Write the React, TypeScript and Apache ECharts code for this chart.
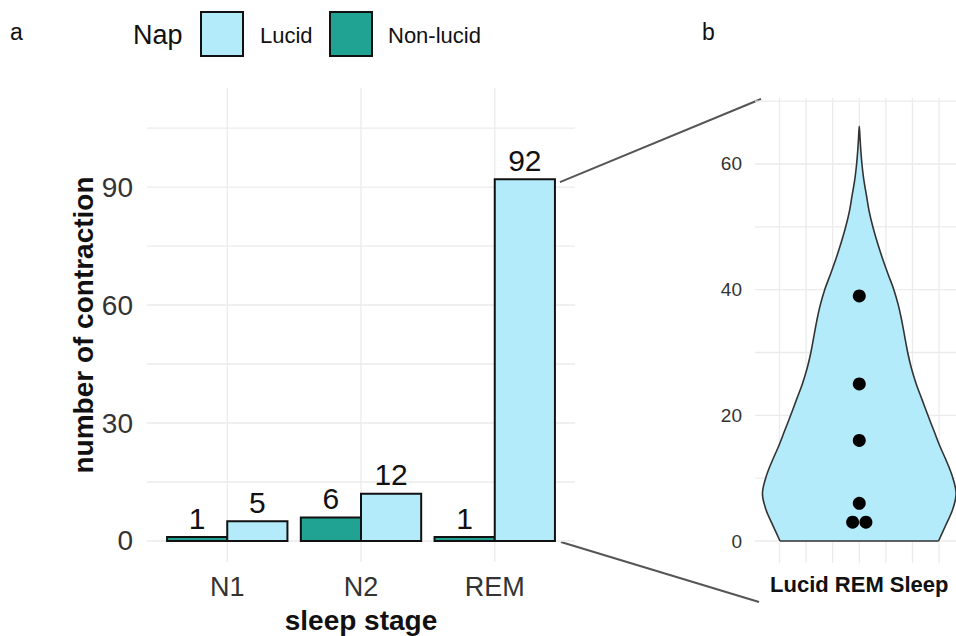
import React, { useEffect, useRef } from "react";
import * as echarts from "echarts";

// ---- data ----
const stages = ["N1", "N2", "REM"];
const lucidCounts = [5, 12, 92];
const nonLucidCounts = [1, 6, 1];
const yTicksA = [0, 30, 60, 90];
const yGridA = [0, 15, 30, 45, 60, 75, 90, 105];
const xGridA = [1, 2, 3];

const violinY = [66, 64, 62, 60, 57.5, 55, 52.5, 50, 47.5, 45, 42.5, 40, 37.5, 35, 32.5, 30, 27.5, 25, 22.5, 20, 17.5, 15, 12.5, 10, 7.5, 5, 2.5, 0];
const violinHalfWidth = [0, 0.03, 0.06, 0.1, 0.17, 0.27, 0.37, 0.51, 0.68, 0.87, 1.08, 1.3, 1.47, 1.6, 1.71, 1.82, 1.96, 2.14, 2.36, 2.58, 2.81, 3.04, 3.3, 3.52, 3.64, 3.51, 3.25, 2.98];
const dotX = [0, 0, 0, 0, -0.25, 0.25];
const dotY = [39, 25, 16, 6, 3, 3];
const yTicksB = [0, 20, 40, 60];
const yGridB = [0, 10, 20, 30, 40, 50, 60, 70];
const xGridB = [-3, -2, -1, 0, 1, 2, 3];
const violinLabel = ["Lucid REM Sleep"];

const LUCID = "#B3EBFA";
const NONLUCID = "#21A394";
const GRID = "#EBEBEB";
const FONT = '"Liberation Sans", Arial, sans-serif';

export default function App() {
  const ref = useRef<HTMLDivElement>(null);
  useEffect(() => {
    if (!ref.current) return;
    const chart = echarts.init(ref.current, null, { renderer: "svg" });

    const hLine = (xMin: number, xMax: number) => (params: any, api: any) => {
      const v = api.value(1);
      const a = api.coord([xMin, v]);
      const b = api.coord([xMax, v]);
      return { type: "line", silent: true, shape: { x1: a[0], y1: a[1], x2: b[0], y2: b[1] }, style: { stroke: GRID, lineWidth: 1.3 } };
    };
    const vLine = (yMin: number, yMax: number) => (params: any, api: any) => {
      const v = api.value(0);
      const a = api.coord([v, yMin]);
      const b = api.coord([v, yMax]);
      return { type: "line", silent: true, shape: { x1: a[0], y1: a[1], x2: b[0], y2: b[1] }, style: { stroke: GRID, lineWidth: 1.3 } };
    };

    const barRender = (offset: number, color: string) => (params: any, api: any) => {
      const x = api.value(0);
      const v = api.value(1);
      const p0 = api.coord([x + offset, 0]);
      const p1 = api.coord([x + offset + 0.45, v]);
      return {
        type: "group",
        children: [
          {
            type: "rect",
            shape: { x: p0[0], y: p1[1], width: p1[0] - p0[0], height: p0[1] - p1[1] },
            style: { fill: color, stroke: "#111", lineWidth: 2 },
          },
          {
            type: "text",
            x: (p0[0] + p1[0]) / 2,
            y: p1[1] - 4,
            style: { text: String(v), fill: "#111", fontSize: 30, fontFamily: FONT, align: "center", verticalAlign: "bottom" },
          },
        ],
      };
    };

    const violinRender = (params: any, api: any) => {
      const pts: number[][] = [];
      for (let i = violinY.length - 1; i >= 0; i--) pts.push(api.coord([-violinHalfWidth[i], violinY[i]]));
      for (let i = 1; i < violinY.length; i++) pts.push(api.coord([violinHalfWidth[i], violinY[i]]));
      const first = pts[0];
      const last = pts[pts.length - 1];
      return {
        type: "group",
        children: [
          { type: "polyline", shape: { points: pts, smooth: 0.35 }, style: { fill: LUCID, stroke: "#333", lineWidth: 1.6 } },
          { type: "line", shape: { x1: first[0], y1: first[1], x2: last[0], y2: last[1] }, style: { stroke: "#333", lineWidth: 1.6 } },
        ],
      };
    };

    const axisCommon = { axisLine: { show: false, onZero: false }, axisTick: { show: false }, splitLine: { show: false } };

    const legendGraphics: any[] = [
      { id: "ta", type: "text", x: 10, y: 32, style: { text: "a", fontSize: 23, fontFamily: FONT, fill: "#111", verticalAlign: "middle" } },
      { id: "tb", type: "text", x: 702, y: 32, style: { text: "b", fontSize: 23, fontFamily: FONT, fill: "#111", verticalAlign: "middle" } },
      { id: "nap", type: "text", x: 133, y: 35, style: { text: "Nap", fontSize: 27, fontFamily: FONT, fill: "#111", verticalAlign: "middle" } },
      { id: "k1", type: "rect", shape: { x: 201, y: 12, width: 42, height: 44 }, style: { fill: LUCID, stroke: "#111", lineWidth: 2 } },
      { id: "l1", type: "text", x: 260, y: 35, style: { text: "Lucid", fontSize: 22, fontFamily: FONT, fill: "#111", verticalAlign: "middle" } },
      { id: "k2", type: "rect", shape: { x: 330, y: 12, width: 42, height: 44 }, style: { fill: NONLUCID, stroke: "#111", lineWidth: 2 } },
      { id: "l2", type: "text", x: 388, y: 35, style: { text: "Non-lucid", fontSize: 22, fontFamily: FONT, fill: "#111", verticalAlign: "middle" } },
    ];

    chart.setOption({
      animation: false,
      backgroundColor: "#fff",
      textStyle: { fontFamily: FONT },
      grid: [
        { left: 147, top: 88, width: 428, height: 474, containLabel: false, outerBoundsMode: "none" },
        { left: 755, top: 98, width: 201, height: 465, containLabel: false, outerBoundsMode: "none" },
      ],
      xAxis: [
        {
          type: "value", gridIndex: 0, min: 0.4, max: 3.6, ...axisCommon,
          axisLabel: { customValues: xGridA, formatter: (v: number) => stages[Math.round(v) - 1], fontSize: 27, color: "#333", margin: 11, fontFamily: FONT },
          name: "sleep stage", nameLocation: "middle", nameGap: 44,
          nameTextStyle: { fontSize: 28, fontWeight: "bold", color: "#111", fontFamily: FONT },
        },
        {
          type: "value", gridIndex: 1, min: -3.92, max: 3.636, ...axisCommon,
          axisLabel: { customValues: [0], formatter: () => violinLabel[0], fontSize: 22, fontWeight: "bold", color: "#111", margin: 10, fontFamily: FONT },
        },
      ],
      yAxis: [
        {
          type: "value", gridIndex: 0, min: -5.34, max: 115.18, ...axisCommon,
          axisLabel: { customValues: yTicksA, fontSize: 28, color: "#333", margin: 14, fontFamily: FONT },
          name: "number of contraction", nameLocation: "middle", nameGap: 48, nameRotate: 90,
          nameTextStyle: { fontSize: 28, fontWeight: "bold", color: "#111", fontFamily: FONT },
        },
        {
          type: "value", gridIndex: 1, min: -3.5, max: 70.5, ...axisCommon,
          axisLabel: { customValues: yTicksB, fontSize: 19, color: "#333", margin: 13, fontFamily: FONT },
        },
      ],
      series: [
        { type: "custom", name: "gridHA", xAxisIndex: 0, yAxisIndex: 0, z: 0, silent: true, clip: false, renderItem: hLine(0.4, 3.6), data: yGridA.map((v) => [1, v]) },
        { type: "custom", name: "gridVA", xAxisIndex: 0, yAxisIndex: 0, z: 0, silent: true, clip: false, renderItem: vLine(-5.34, 115.18), data: xGridA.map((v) => [v, 0]) },
        { type: "custom", name: "gridHB", xAxisIndex: 1, yAxisIndex: 1, z: 0, silent: true, clip: false, renderItem: hLine(-3.92, 3.636), data: yGridB.map((v) => [0, v]) },
        { type: "custom", name: "gridVB", xAxisIndex: 1, yAxisIndex: 1, z: 0, silent: true, clip: false, renderItem: vLine(-3.5, 70.5), data: xGridB.map((v) => [v, 0]) },
        { type: "custom", name: "Non-lucid", xAxisIndex: 0, yAxisIndex: 0, z: 2, clip: false, renderItem: barRender(-0.45, NONLUCID), data: nonLucidCounts.map((v, i) => [i + 1, v]) },
        { type: "custom", name: "Lucid", xAxisIndex: 0, yAxisIndex: 0, z: 2, clip: false, renderItem: barRender(0, LUCID), data: lucidCounts.map((v, i) => [i + 1, v]) },
        { type: "custom", name: "violin", xAxisIndex: 1, yAxisIndex: 1, z: 2, clip: false, renderItem: violinRender, data: [[0, 0]] },
        {
          type: "scatter", name: "naps", xAxisIndex: 1, yAxisIndex: 1, z: 3, symbolSize: 13,
          itemStyle: { color: "#000", opacity: 1 }, data: dotX.map((x, i) => [x, dotY[i]]),
        },
      ],
      graphic: legendGraphics,
    });

    const top = chart.convertToPixel({ xAxisIndex: 0, yAxisIndex: 0 }, [3.45, 92]) as number[];
    const base = chart.convertToPixel({ xAxisIndex: 0, yAxisIndex: 0 }, [3.45, 0]) as number[];
    chart.setOption({
      graphic: [
        ...legendGraphics,
        { id: "c1", type: "line", shape: { x1: top[0] + 5, y1: top[1] + 3, x2: 761, y2: 99 }, style: { stroke: "#555", lineWidth: 2 } },
        { id: "c2", type: "line", shape: { x1: base[0] + 6, y1: base[1] + 1, x2: 759, y2: 602 }, style: { stroke: "#555", lineWidth: 2 } },
      ],
    });

    return () => chart.dispose();
  }, []);
  return <div ref={ref} style={{ position: "absolute", left: 0, top: 0, width: 956, height: 636 }} />;
}
